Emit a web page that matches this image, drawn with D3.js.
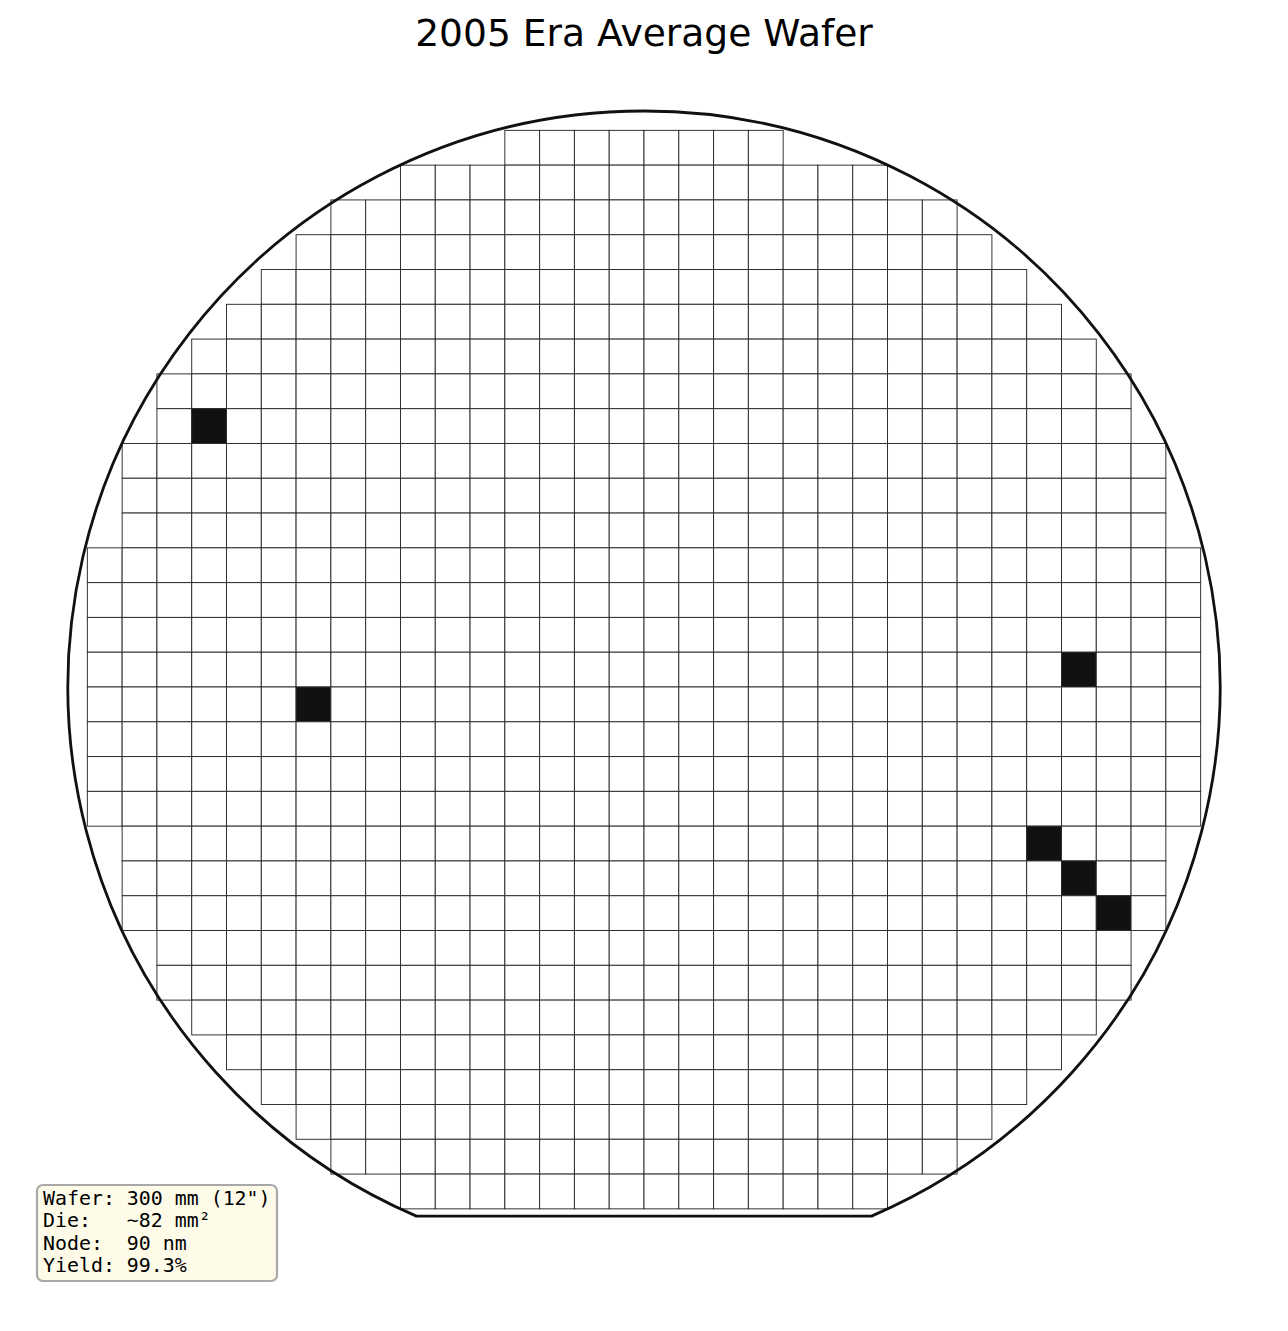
<!DOCTYPE html>
<html>
<head>
<meta charset="utf-8">
<script src="https://cdn.jsdelivr.net/npm/d3@7"></script>
<style>
	body { margin: 0; background: #fff; }
	svg { display: block; }
</style>
</head>
<body>
<div id="graph-container"></div>
<script>
// wafer data (die grid, 31 rows x 32 columns)
const chartTitle = "2005 Era Average Wafer";
const waferDiameterMm = 300;
const diePitchMm = 9.06; // ~82 mm² die
const flatOffsetMm = 137.8; // distance from centre to the flat
// first / last die column used in each row (top row first)
const rowFirst = [12, 9, 7, 6, 5, 4, 3, 2, 2, 1, 1, 1, 0, 0, 0, 0, 0, 0, 0, 0, 1, 1, 1, 2, 2, 3, 4, 5, 6, 7, 9];
const rowLast = [19, 22, 24, 25, 26, 27, 28, 29, 29, 30, 30, 30, 31, 31, 31, 31, 31, 31, 31, 31, 30, 30, 30, 29, 29, 28, 27, 26, 25, 24, 22];
// failed dies as [column, row]
const defects = [[3, 8], [6, 16], [28, 15], [27, 20], [28, 21], [29, 22]];
const infoLines = ["Wafer: 300 mm (12\")", "Die:   ~82 mm²", "Node:  90 nm", "Yield: 99.3%"];

document.addEventListener("DOMContentLoaded", function () {
	builder();
});

function builder() {
	const w = 1288;
	const h = 1331;
	const cx = 644; // wafer centre
	const cy = 687;
	const rPx = 576; // wafer radius in px

	const svg = d3
		.select("#graph-container")
		.append("svg")
		.attr("width", w)
		.attr("height", h)
		.attr("viewBox", `0 0 ${w} ${h}`);

	// mm -> px scales
	const half = waferDiameterMm / 2;
	const x = d3.scaleLinear().domain([-half, half]).range([cx - rPx, cx + rPx]);
	const y = d3.scaleLinear().domain([half, -half]).range([cy - rPx, cy + rPx]);
	const nCols = 32;
	const nRows = rowFirst.length;
	const colEdge = (c) => x((c - nCols / 2) * diePitchMm);
	const rowEdge = (r) => y((Math.ceil(nRows / 2) - r) * diePitchMm);

	// title
	svg.append("text")
		.attr("x", w / 2)
		.attr("y", 46)
		.attr("text-anchor", "middle")
		.style("font-family", "DejaVu Sans")
		.style("font-size", "37.6px")
		.attr("fill", "#000")
		.text(chartTitle);

	// dies
	const dies = [];
	rowFirst.forEach((first, r) => {
		for (let c = first; c <= rowLast[r]; c++) {
			const bad = defects.some((d) => d[0] === c && d[1] === r);
			dies.push({ c: c, r: r, bad: bad });
		}
	});

	svg.append("g")
		.selectAll("rect")
		.data(dies)
		.enter()
		.append("rect")
		.attr("x", (d) => colEdge(d.c))
		.attr("y", (d) => rowEdge(d.r))
		.attr("width", (d) => colEdge(d.c + 1) - colEdge(d.c))
		.attr("height", (d) => rowEdge(d.r + 1) - rowEdge(d.r))
		.attr("fill", (d) => (d.bad ? "#111" : "#fff"))
		.attr("stroke", "#2a2a2a")
		.attr("stroke-width", 0.95);

	// wafer outline with flat at the bottom
	const flatPx = y(-flatOffsetMm) - cy;
	const hw = Math.sqrt(rPx * rPx - flatPx * flatPx);
	const aLeft = Math.atan2(flatPx, -hw);
	const aRight = Math.atan2(flatPx, hw) + 2 * Math.PI;
	const p = d3.path();
	p.moveTo(cx - hw, cy + flatPx);
	p.arc(cx, cy, rPx, aLeft, aRight, false);
	p.closePath();
	svg.append("path")
		.attr("d", p.toString())
		.attr("fill", "none")
		.attr("stroke", "#111")
		.attr("stroke-width", 2.8);

	// info box
	const box = svg.append("g").attr("transform", "translate(37,1185)");
	box.append("rect")
		.attr("width", 240)
		.attr("height", 96)
		.attr("rx", 6)
		.attr("fill", "#fefbe9")
		.attr("stroke", "#a8a8a8")
		.attr("stroke-width", 2.2);
	box.selectAll("text")
		.data(infoLines)
		.enter()
		.append("text")
		.attr("x", 6)
		.attr("y", (d, i) => 20 + i * 22.3)
		.attr("xml:space", "preserve")
		.style("white-space", "pre")
		.style("font-family", "DejaVu Sans Mono")
		.style("font-size", "19.9px")
		.attr("fill", "#000")
		.text((d) => d);
}
</script>
</body>
</html>
